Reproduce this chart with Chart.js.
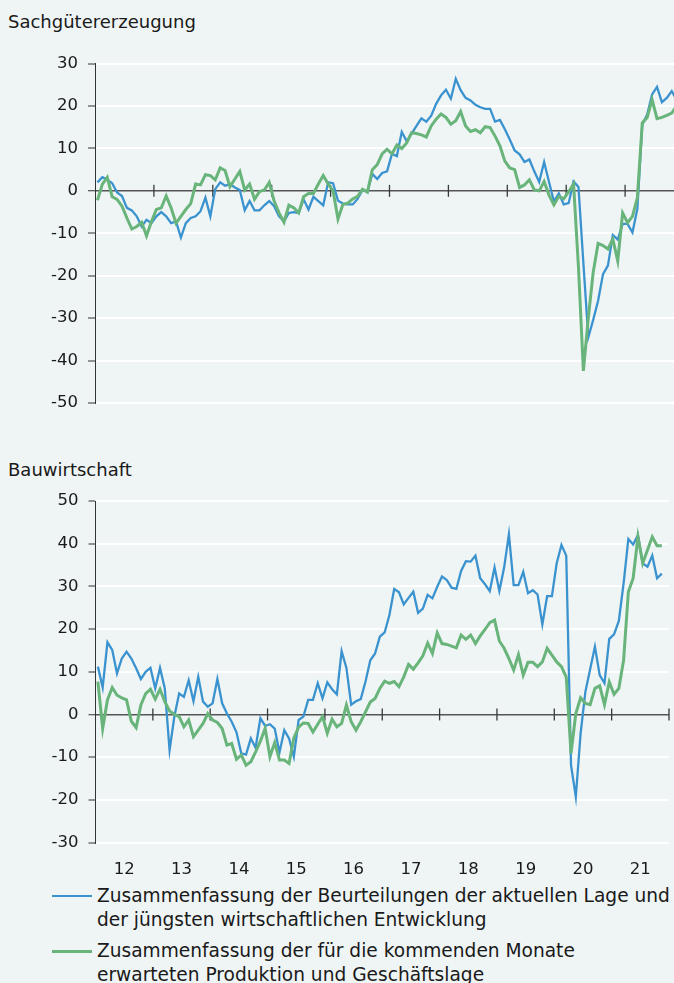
<!DOCTYPE html>
<html><head><meta charset="utf-8">
<script src="https://cdn.jsdelivr.net/npm/chart.js@4.4.1/dist/chart.umd.min.js"></script>
<style>
html,body{margin:0;padding:0;background:#eff5f5;overflow:hidden;width:674px;height:983px;}
body{position:relative;font-family:"DejaVu Sans",sans-serif;color:#1a1a1a;}
.title{position:absolute;left:8px;font-size:18px;line-height:22px;white-space:nowrap;}
canvas{position:absolute;left:0;}
.leg{position:absolute;left:52px;width:640px;height:50px;}
.leg .ln{position:absolute;left:0;width:40px;}
.leg .tx{position:absolute;left:45px;top:0;font-size:18.6px;line-height:24px;white-space:nowrap;}
</style></head><body>
<div class="title" style="top:11px">Sachgütererzeugung</div>
<canvas id="c1" width="684" height="383" style="top:40px"></canvas>
<div class="title" style="top:459px">Bauwirtschaft</div>
<canvas id="c2" width="674" height="403" style="top:480px"></canvas>
<div class="leg" style="top:884px"><div class="ln" style="top:11px;height:2.2px;background:#3a92cf"></div><div class="tx">Zusammenfassung der Beurteilungen der aktuellen Lage und<br>der jüngsten wirtschaftlichen Entwicklung</div></div>
<div class="leg" style="top:939px"><div class="ln" style="top:11px;height:2.6px;background:#68b47a"></div><div class="tx">Zusammenfassung der für die kommenden Monate<br>erwarteten Produktion und Geschäftslage</div></div>
<script>
const yearLabels = ['12','13','14','15','16','17','18','19','20','21'];
const seriesNames = ['Zusammenfassung der Beurteilungen der aktuellen Lage und der jüngsten wirtschaftlichen Entwicklung','Zusammenfassung der für die kommenden Monate erwarteten Produktion und Geschäftslage'];

// Sachgütererzeugung, monthly from Jan 2012
const sgAktuell = [
 2.0, 3.2, 2.6, 1.8, -0.4, -1.2, -4, -4.6, -6, -8.4, -6.8, -7.6,
 -6, -5, -6, -7.6, -7.2, -11, -7.6, -6.4, -6, -4.8, -1.6, -6,
 0.4, 2, 1.2, 1.6, 0.8, 0.2, -4.6, -2.4, -4.6, -4.6, -3.4, -2.4,
 -3.6, -6, -7.2, -5.2, -5, -5.2, -2, -4.4, -1.4, -2.4, -3.4, 2,
 1.8, -2.3, -3.0, -3.2, -3.2, -1.9, 0.2, -0.2, 4, 2.8, 4.2, 4.6,
 8.7, 8.2, 13.9, 11.7, 13.5, 15.3, 17.1, 16.3, 17.7, 20.5, 22.5, 23.8,
 21.7, 26.4, 23.7, 21.9, 21.3, 20.3, 19.7, 19.3, 19.3, 16.3, 16.7, 14.5,
 12.1, 9.5, 8.6, 6.8, 7.4, 4.6, 2.1, 6.8, 2.1, -2.5, -0.6, -3.2,
 -2.9, 2.2, 0.9, -17, -34.5, -30.4, -25.9, -19.6, -17.6, -10.4, -11.5, -7.8,
 -7.8, -9.8, -4.2, 15.6, 18, 22.7, 24.5, 20.9, 21.9, 23.5, 21.5
];
const sgErwartung = [
 -2.2, 1.6, 3.2, -1.4, -2, -3.6, -6.4, -9, -8.4, -7.4, -10.6, -7.2,
 -4.4, -4, -1.2, -4, -7.6, -6, -4.4, -3, 1.6, 1.4, 3.8, 3.6,
 2.6, 5.4, 4.8, 1, 2.8, 4.6, 0.2, 1.6, -2, -0.2, 0.2, 2,
 -2.4, -5.2, -7.4, -3.4, -4, -5.2, -1.4, -0.6, -0.6, 1.6, 3.6, 1.6,
 0, -6.6, -3.2, -2.9, -1.9, -1.3, 0.4, -0.3, 5, 6.2, 8.7, 9.8,
 8.7, 10.8, 10, 11.3, 13.7, 13.5, 13.2, 12.7, 15.3, 16.9, 18.1, 17.3,
 15.7, 16.5, 18.7, 15.3, 14, 14.4, 13.7, 15.1, 14.9, 12.9, 10.6, 7,
 5.4, 5, 0.8, 1.4, 2.6, 0.2, 0, 2.2, -1, -3.3, -1.3, -1.9,
 -0.2, 1.6, -18, -42.4, -30, -19.2, -12.4, -12.9, -13.7, -11.4, -16.5, -5.2,
 -7.5, -6, -1.6, 16, 17.3, 21.5, 17, 17.3, 17.8, 18.3, 20
];
// Bauwirtschaft, monthly from Jan 2012
const bauAktuell = [
 11.2, 6.3, 16.9, 15.1, 9.6, 13.1, 14.7, 13.1, 10.8, 8.3, 10, 10.9,
 6.1, 10.9, 6.1, -8.4, -0.5, 4.9, 4.1, 8, 3.1, 8.8, 3, 1.8,
 2.6, 8.3, 2.6, 0.2, -1.7, -4.2, -9.1, -9.4, -5.6, -7.8, -0.9, -2.7,
 -2.3, -3.3, -8.9, -3.7, -5.6, -9.9, -1.3, -0.5, 3.4, 3.4, 7.3, 3.75,
 7.5, 5.9, 4.7, 14.8, 10.9, 2.3, 3.1, 3.6, 7.7, 12.7, 14.3, 18.2,
 19.2, 23.3, 29.4, 28.6, 25.8, 27.3, 28.75, 23.8, 24.8, 28, 27.2, 29.9,
 32.3, 31.5, 29.7, 29.4, 33.6, 35.9, 35.8, 37.2, 31.9, 30.5, 28.9, 34.4,
 28.9, 34.4, 42.2, 30.3, 30.3, 33.4, 28.4, 29.1, 28.1, 21.1, 27.7, 27.7,
 35.4, 39.7, 37.2, -11.9, -19.3, -4.5, 5.3, 10.6, 15.9, 9.2, 7.3, 17.7,
 18.75, 21.9, 30.7, 41.1, 39.8, 42, 35.4, 34.6, 37.2, 31.9, 33
];
const bauErwartung = [
 7.7, -3.3, 3.4, 6.3, 4.5, 3.9, 3.4, -1.6, -3.1, 2.2, 4.9, 5.9,
 3.6, 5.9, 3, 0.8, 0, -0.5, -2.9, -1.3, -5.2, -3.7, -2.1, 0.2,
 -1.3, -1.9, -3.3, -7.2, -6.8, -10.5, -9.5, -11.9, -11.1, -8.75, -6.25, -3.3,
 -9.9, -6.6, -10.7, -10.7, -11.5, -5.5, -3, -2, -2.1, -4.1, -2.3, -0.5,
 -4.4, -1.1, -2.9, -2.1, 2.2, -1.7, -3.7, -1.7, 0.6, 2.9, 3.75, 6.1,
 7.8, 7.3, 7.7, 6.5, 8.8, 11.7, 10.6, 12.1, 13.75, 16.7, 14.3, 19.1,
 16.6, 16.4, 16, 15.6, 18.6, 17.6, 18.6, 16.6, 18.4, 19.9, 21.5, 22.1,
 17.2, 15.5, 13.1, 10.4, 14, 9.2, 12.2, 12.2, 11.2, 12.3, 15.5, 13.9,
 12.3, 11.2, 8.75, -9.1, 0.2, 3.9, 2.6, 2.3, 6.1, 6.7, 2.3, 7.6,
 4.7, 6.1, 12.7, 28.75, 31.9, 41.6, 35.4, 38.5, 41.6, 39.5, 39.5
];

const BLUE = '#3a92cf', GREEN = '#68b47a';
const FONT = '"DejaVu Sans", sans-serif';
const TXT = '#1a1a1a';
const totalMonths = yearLabels.length * 12;

const yearTicks = {
  id: 'yearTicks',
  beforeDatasetsDraw(chart) {
    const {ctx, scales: {x, y}} = chart;
    const y0 = y.getPixelForValue(0);
    ctx.save();
    ctx.strokeStyle = '#3a3a3a';
    ctx.lineWidth = 1.3;
    for (let k = 1; k <= yearLabels.length; k++) {
      const px = x.getPixelForValue(k * 12);
      ctx.beginPath();
      ctx.moveTo(px, y0 - 6);
      ctx.lineTo(px, y0 + 6);
      ctx.stroke();
    }
    ctx.restore();
  }
};

function pts(arr) { return arr.map((v, i) => ({x: i + 0.5, y: v})); }

function makeChart(id, aktuell, erwartung, yMin, yMax, o) {
  new Chart(document.getElementById(id), {
    type: 'line',
    data: {
      datasets: [
        {label: seriesNames[0], data: pts(aktuell), borderColor: BLUE, borderWidth: 2.3, pointRadius: 0, tension: 0, order: 2},
        {label: seriesNames[1], data: pts(erwartung), borderColor: GREEN, borderWidth: 3, pointRadius: 0, tension: 0, order: 1}
      ]
    },
    options: {
      responsive: false, animation: false,
      layout: {padding: o.padding},
      plugins: {legend: {display: false}, tooltip: {enabled: false}},
      scales: {
        x: {
          type: 'linear', min: 0, max: totalMonths,
          display: o.showX,
          grid: {display: false, drawTicks: false},
          border: {display: false},
          ticks: {padding: 17, font: {size: 16.5, family: FONT}, color: TXT, maxRotation: 0, autoSkip: false,
                  callback: (v, i) => yearLabels[i]},
          afterBuildTicks: s => { s.ticks = yearLabels.map((_, i) => ({value: i * 12 + 6})); },
          afterFit: s => { if (o.showX) s.height = o.xHeight; }
        },
        y: {
          min: yMin, max: yMax,
          afterFit: s => { s.width = o.leftW; },
          ticks: {stepSize: 10, padding: 10, font: {size: 16.5, family: FONT}, color: TXT},
          grid: {
            color: c => (c.tick && c.tick.value === 0) ? '#555555' : '#ffffff',
            lineWidth: c => (c.tick && c.tick.value === 0) ? 1.5 : 2,
            tickColor: '#333333', tickLength: 7, tickWidth: 1
          },
          border: {display: true, color: '#333333', width: 1}
        }
      }
    },
    plugins: [yearTicks]
  });
}

makeChart('c1', sgAktuell, sgErwartung, -50, 30, {padding: {top: 23.5, bottom: 10, left: 0, right: 0}, leftW: 95, showX: false});
makeChart('c2', bauAktuell, bauErwartung, -30, 50, {padding: {top: 21, bottom: 0, left: 0, right: 5}, leftW: 95.5, showX: true, xHeight: 40.5});
</script>
</body></html>
